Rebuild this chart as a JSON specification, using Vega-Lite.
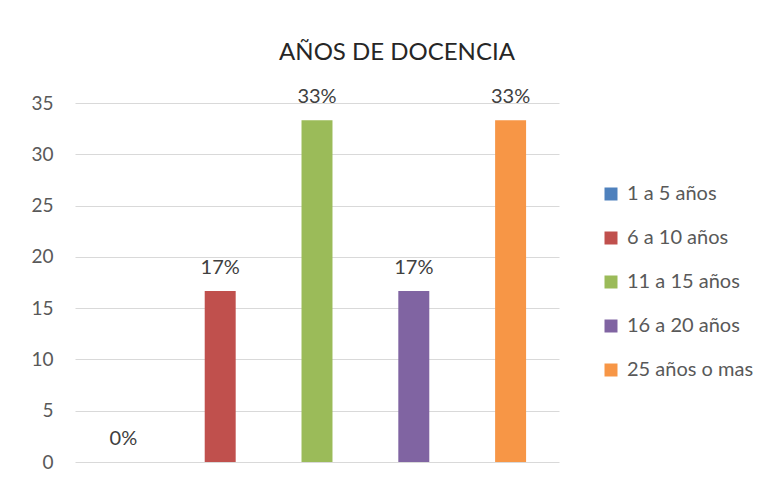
{
  "$schema": "https://vega.github.io/schema/vega-lite/v6.json",
  "autosize": {"type": "none"},
  "width": 484,
  "height": 359,
  "padding": {"left": 75, "top": 103, "right": 212, "bottom": 20},
  "background": "white",
  "title": {"text": "AÑOS DE DOCENCIA", "anchor": "middle", "dx": 80, "offset": 22, "font": "Lato", "fontSize": 24, "fontWeight": "normal", "color": "#262626"},
  "data": {"values": [
    {"categoria": "1 a 5 años", "valor": 0, "etiqueta": "0%"},
    {"categoria": "6 a 10 años", "valor": 16.67, "etiqueta": "17%"},
    {"categoria": "11 a 15 años", "valor": 33.33, "etiqueta": "33%"},
    {"categoria": "16 a 20 años", "valor": 16.67, "etiqueta": "17%"},
    {"categoria": "25 años o mas", "valor": 33.33, "etiqueta": "33%"}
  ]},
  "encoding": {
    "x": {"field": "categoria", "type": "nominal", "sort": null, "axis": null, "scale": {"paddingInner": 0.68, "paddingOuter": 0.34}},
    "y": {"field": "valor", "type": "quantitative", "scale": {"domain": [0, 35], "nice": false},
      "axis": {"title": null, "values": [0, 5, 10, 15, 20, 25, 30, 35], "grid": true, "gridColor": "#d9d9d9", "gridWidth": 1, "domain": false, "ticks": false, "labelPadding": 22, "labelFont": "Lato", "labelFontSize": 19, "labelColor": "#595959"}}
  },
  "layer": [
    {"mark": {"type": "bar"},
     "encoding": {"color": {"field": "categoria", "type": "nominal", "sort": null,
        "scale": {"domain": ["1 a 5 años", "6 a 10 años", "11 a 15 años", "16 a 20 años", "25 años o mas"], "range": ["#4f81bd", "#c0504d", "#9bbb59", "#8064a2", "#f79646"]},
        "legend": {"title": null, "orient": "none", "legendX": 526, "legendY": 81, "symbolType": "square", "symbolSize": 169, "symbolStrokeWidth": 0, "labelFont": "Lato", "labelFontSize": 20, "labelColor": "#595959", "rowPadding": 24, "labelOffset": 6, "labelLimit": 200}}}},
    {"mark": {"type": "text", "baseline": "alphabetic", "dy": -17, "font": "Lato", "fontSize": 20, "color": "#404040"},
     "encoding": {"text": {"field": "etiqueta"}}}
  ],
  "config": {"view": {"stroke": null}}
}
